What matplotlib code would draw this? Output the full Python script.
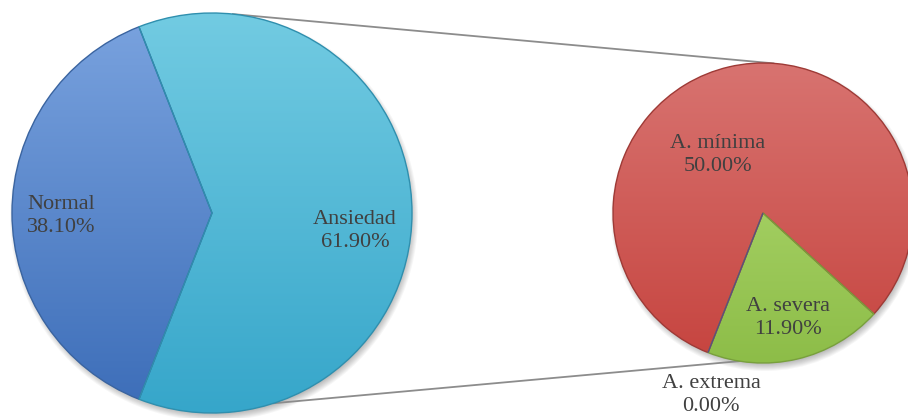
import numpy as np
import matplotlib
matplotlib.use("Agg")
import matplotlib.pyplot as plt
from matplotlib.colors import to_rgb
from matplotlib.patches import Circle

# Distribución de ansiedad: pastel principal y pastel secundario
main_labels = ["Normal", "Ansiedad"]
main_values = [38.10, 61.90]
sub_labels = ["A. mínima", "A. severa", "A. extrema"]
sub_values = [50.00, 11.90, 0.00]

W, H = 908, 418
fig = plt.figure(figsize=(W / 100, H / 100), dpi=100)
ax = fig.add_axes([0, 0, 1, 1])

main_c, main_r = (212, 205), 200
sub_c, sub_r = (763, 205), 150

# degradado vertical (arriba claro, abajo oscuro) por color
shades = {
    "Normal": ("#7aa3df", "#3c6db8"),
    "Ansiedad": ("#72cbe2", "#36a6ca"),
    "A. mínima": ("#d87370", "#c6443f"),
    "A. severa": ("#b6de78", "#8dbd48"),
    "A. extrema": ("#8064a2", "#8064a2"),
}
edges = {"Normal": "#3a64a0", "Ansiedad": "#2f8fae",
         "A. mínima": "#9e3a36", "A. severa": "#78a03c", "A. extrema": "#60497e"}


def shadow(c, r):
    for i in range(8):
        ax.add_patch(Circle((c[0] + 2, c[1] - 4), r + 4 - i, color="k",
                            alpha=0.035, lw=0, zorder=1))


def fill_gradient(wedges, labels, c, r):
    for w, lab in zip(wedges, labels):
        top, bot = np.array(to_rgb(shades[lab][0])), np.array(to_rgb(shades[lab][1]))
        t = np.linspace(0, 1, 256)[:, None, None]
        img = bot + (top - bot) * t
        w.set_facecolor("none")
        w.set_edgecolor(edges[lab])
        w.set_linewidth(1.0)
        w.set_zorder(4)
        im = ax.imshow(img, extent=(c[0] - r, c[0] + r, c[1] - r, c[1] + r),
                       origin="lower", interpolation="bilinear", zorder=3)
        im.set_clip_path(w)


shadow(main_c, main_r)
shadow(sub_c, sub_r)

# conectores entre ambos pasteles
def on_circle(c, r, ang):
    a = np.deg2rad(ang)
    return c[0] + r * np.cos(a), c[1] + r * np.sin(a)

for a_main, a_sub in [(84, 86), (-72, -99)]:
    p1 = on_circle(main_c, main_r, a_main)
    p2 = on_circle(sub_c, sub_r, a_sub)
    ax.plot([p1[0], p2[0]], [p1[1], p2[1]], color="#8c8c8c", lw=1.3, zorder=2)

start = 180 - main_values[0] / 100 * 180
w_main, _ = ax.pie(main_values, startangle=start, counterclock=True,
                   center=main_c, radius=main_r, frame=True)
fill_gradient(w_main, main_labels, main_c, main_r)

sub_start = 317.7 + sum(sub_values[:1]) / sum(sub_values) * 360
w_sub, _ = ax.pie(sub_values, startangle=sub_start, counterclock=False,
                  center=sub_c, radius=sub_r, frame=True)
fill_gradient(w_sub, sub_labels, sub_c, sub_r)

font = dict(family=["Liberation Serif", "DejaVu Serif"], fontsize=16,
            color="#404040", zorder=6)
ax.text(27, H - 216, f"{main_labels[0]}\n{main_values[0]:.2f}%",
        ha="left", va="center", linespacing=1.25, **font)
ax.text(355, H - 231, f"{main_labels[1]}\n{main_values[1]:.2f}%",
        ha="center", va="center", linespacing=1.25, **font)
ax.text(718, H - 155, f"{sub_labels[0]}\n{sub_values[0]:.2f}%",
        ha="center", va="center", linespacing=1.25, **font)
ax.text(788, H - 318, f"{sub_labels[1]}\n{sub_values[1]:.2f}%",
        ha="center", va="center", linespacing=1.25, **font)
ax.text(711, H - 395, f"{sub_labels[2]}\n{sub_values[2]:.2f}%",
        ha="center", va="center", linespacing=1.25, **font)

ax.set_xlim(0, W)
ax.set_ylim(0, H)
ax.set_aspect("equal")
ax.axis("off")

fig.savefig("out.png", dpi=100)
